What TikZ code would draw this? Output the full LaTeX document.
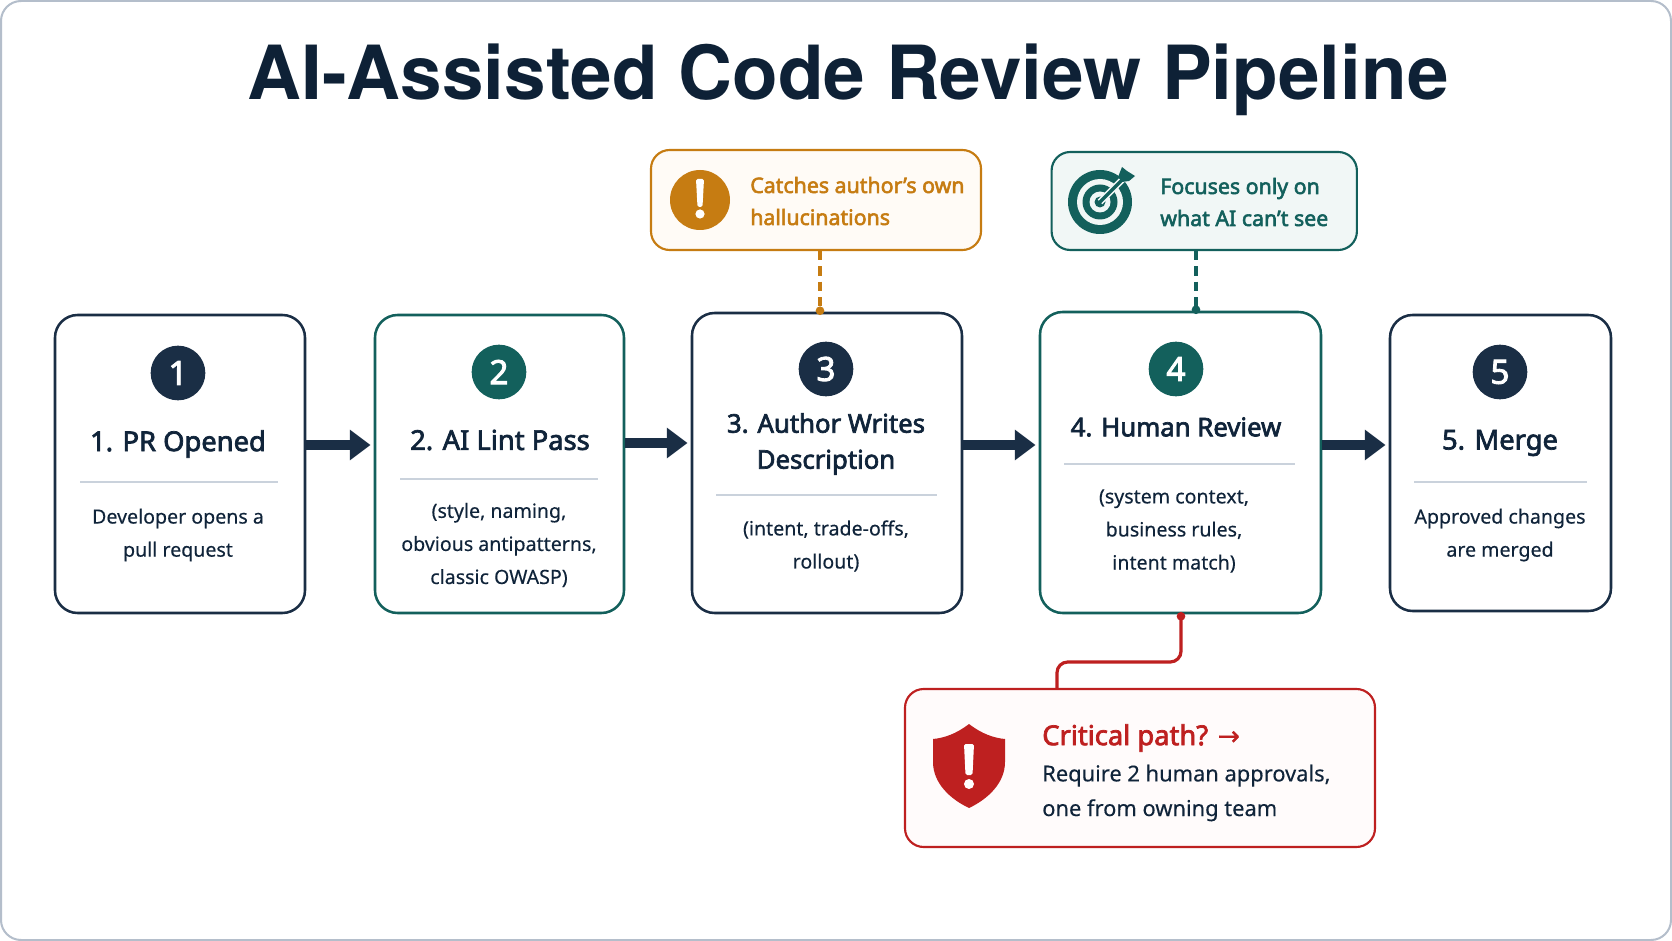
\documentclass[tikz,border=0pt]{standalone}
\usepackage{fontspec}
\setmainfont{Noto Sans}
\newfontfamily\headfont{TeX Gyre Heros}
\newfontfamily\semi[FakeBold=2.6]{Noto Sans}
\newfontfamily\reg[FakeBold=0.3]{Noto Sans}
\newfontfamily\arrowfont[FakeBold=0.6]{DejaVu Sans}
\usetikzlibrary{arrows.meta,calc}
\definecolor{navy}{HTML}{1A2E45}
\definecolor{ink}{HTML}{10243A}
\definecolor{titleink}{HTML}{0E2136}
\definecolor{teal2}{HTML}{13605C}
\definecolor{tealfill}{HTML}{F1F7F6}
\definecolor{orange2}{HTML}{C67C12}
\definecolor{orangefill}{HTML}{FFFBF6}
\definecolor{red2}{HTML}{BE2020}
\definecolor{redfill}{HTML}{FFFBFB}
\definecolor{rulegrey}{HTML}{CAD2DC}
\definecolor{framegrey}{HTML}{B4BECB}
\tikzset{
  x=0.75pt,y=-0.75pt,
  stepbox/.style={draw=#1,line width=1.9pt,rounded corners=17pt,fill=white,inner sep=0pt},
  badge/.style={circle,fill=#1,minimum size=41pt,inner sep=0pt,text=white,font=\semi\fontsize{25}{25}\selectfont},
  steptitle/.style={text=ink,font=\semi\fontsize{#1}{27}\selectfont,align=center,inner sep=0pt},
  steptitle/.default=20.5,
  stepbody/.style={text=ink,font=\reg\fontsize{14.7}{24.8}\selectfont,align=center,inner sep=0pt},
  divider/.style={draw=rulegrey,line width=2pt},
  flow/.style={draw=navy,line width=6.8pt,shorten >=2.4pt,-{Triangle[length=15.5pt,width=22pt]}},
  callout/.style={draw=#1,line width=1.6pt,rounded corners=14pt,inner sep=0pt},
  callouttext/.style={text=#1,font=\semi\fontsize{16}{24}\selectfont,align=left,anchor=west,inner sep=0pt},
  enddot/.style={circle,fill=#1,minimum size=6.5pt,inner sep=0pt},
  leader/.style={draw=#1,line width=2.3pt,dash pattern=on 7pt off 4.5pt},
}
\newcommand{\stepboxat}[6]{% name, colour, x1, y1, x2, y2
  \node[stepbox=#2,minimum width={(#5-#3)*0.75pt},minimum height={(#6-#4)*0.75pt}] (#1) at ({(#3+#5)/2},{(#4+#6)/2}) {};
}
\begin{document}
\begin{tikzpicture}
\useasboundingbox (0,0) rectangle (1672,941);
\fill[white] (0,0) rectangle (1672,941);
\draw[framegrey,line width=1.5pt,rounded corners=15pt] (1,1) rectangle (1671,940);

\node[text=titleink,font=\headfont\fontsize{56}{56}\selectfont\bfseries,inner sep=0pt] (title) at (848,79.5) {AI-Assisted Code Review Pipeline};

\stepboxat{b1}{navy}{55}{315}{305}{613}
\stepboxat{b2}{teal2}{375}{315}{624}{613}
\stepboxat{b3}{navy}{692}{313}{962}{613}
\stepboxat{b4}{teal2}{1040}{312}{1321}{613}
\stepboxat{b5}{navy}{1390}{315}{1611}{611}

\node[badge=navy] (c1) at (178,373) {1};
\node[badge=teal2] (c2) at (499,372) {2};
\node[badge=navy] (c3) at (826,369) {3};
\node[badge=teal2] (c4) at (1176,369) {4};
\node[badge=navy] (c5) at (1500,372) {5};

\node[steptitle] (t1) at (178,444) {1. PR Opened};
\node[steptitle] (t2) at (500,440) {2. AI Lint Pass};
\node[steptitle=19.3] (t3) at (826,444) {3. Author Writes\\Description};
\node[steptitle=19.3] (t4) at (1176,427) {4. Human Review};
\node[steptitle] (t5) at (1500,443) {5. Merge};

\draw[divider] (80,482) -- (278,482);
\draw[divider] (400,479) -- (598,479);
\draw[divider] (716,495) -- (937,495);
\draw[divider] (1064,464) -- (1295,464);
\draw[divider] (1414,482) -- (1587,482);

\node[stepbody] (d1) at (178,535) {Developer opens a\\pull request};
\node[stepbody] (d2) at (499,545) {(style, naming,\\obvious antipatterns,\\classic OWASP)};
\node[stepbody] (d3) at (826,546) {(intent, trade-offs,\\rollout)};
\node[stepbody] (d4) at (1174,531) {(system context,\\business rules,\\intent match)};
\node[stepbody] (d5) at (1500,535) {Approved changes\\are merged};

\coordinate (a1) at (0,445);
\coordinate (a2) at (0,443);
\coordinate (a3) at (0,445);
\coordinate (a4) at (0,445);
\draw[flow] (b1.east |- a1) -- (b2.west |- a1);
\draw[flow] (b2.east |- a2) -- (b3.west |- a2);
\draw[flow] (b3.east |- a3) -- (b4.west |- a3);
\draw[flow] (b4.east |- a4) -- (b5.west |- a4);

% orange callout
\node[callout=orange2,fill=orangefill,minimum width=247.5pt,minimum height=75pt] (co) at (816,200) {};
\node[circle,fill=orange2,minimum size=45pt,inner sep=0pt] (coi) at (700,200) {};
\fill[white,rounded corners=1.2pt] (696,179) -- (704,179) -- (702.5,207) -- (697.5,207) -- cycle;
\fill[white] (700,214) circle (4.6);
\node[callouttext=orange2] (cot) at (750,201) {Catches author’s own\\hallucinations};
\coordinate (co3) at (820,0);
\draw[leader=orange2] (co3 |- co.south) -- (co3 |- b3.north);
\node[enddot=orange2] (cod) at ($(co3 |- b3.north)+(0,-1)$) {};

% teal callout
\node[callout=teal2,fill=tealfill,minimum width=229pt,minimum height=73.5pt] (ct) at (1204.25,201) {};
\coordinate (cti) at (1100,202);
\fill[teal2] (cti) circle (32);
\fill[tealfill] (cti) circle (23);
\fill[teal2] (cti) circle (17.5);
\fill[tealfill] (cti) circle (10.5);
\fill[teal2] (cti) circle (5.5);
\draw[tealfill,line width=5pt] (cti) -- (1124,178);
\draw[teal2,line width=2.4pt,line cap=round] (cti) -- (1121,181);
\fill[teal2] (1118,177) -- (1122,167) -- (1127,171) -- (1135,176) -- (1129,181) -- (1122,182) -- cycle;
\node[callouttext=teal2] (ctt) at (1160,202) {Focuses only on\\what AI can’t see};
\coordinate (ct4) at (1196,0);
\draw[leader=teal2] (ct4 |- ct.south) -- (ct4 |- b4.north);
\node[enddot=teal2] (ctd) at ($(ct4 |- b4.north)+(0,-1)$) {};

% red callout
\node[callout=red2,fill=redfill,minimum width=352.5pt,minimum height=118.5pt] (cr) at (1140,768) {};
\fill[red2] (969,724) .. controls (982,734) and (994,738) .. (1005,739)
  -- (1005,762) .. controls (1005,783) and (988,799) .. (969,808)
  .. controls (950,799) and (933,783) .. (933,762) -- (933,739)
  .. controls (944,738) and (956,734) .. (969,724) -- cycle;
\fill[white,rounded corners=1.2pt] (964,744) -- (974,744) -- (972.5,775) -- (965.5,775) -- cycle;
\fill[white] (969,784) circle (5);
\node[text=red2,font=\semi\fontsize{20.5}{24}\selectfont,anchor=west,inner sep=0pt] (crh) at (1042,738) {Critical path? {\arrowfont\fontsize{20}{24}\selectfont→}};
\node[text=ink,font=\reg\fontsize{16.4}{26}\selectfont,align=left,anchor=west,inner sep=0pt] (crt) at (1042,793) {Require 2 human approvals,\\one from owning team};
\coordinate (cr4) at (1181,0);
\coordinate (crb) at (1057,0);
\draw[red2,line width=2.4pt,rounded corners=8pt] (cr4 |- b4.south) -- (1181,662) -- (1057,662) -- (crb |- cr.north);
\node[enddot=red2] (crd) at ($(cr4 |- b4.south)+(0,2)$) {};
\end{tikzpicture}
\end{document}
